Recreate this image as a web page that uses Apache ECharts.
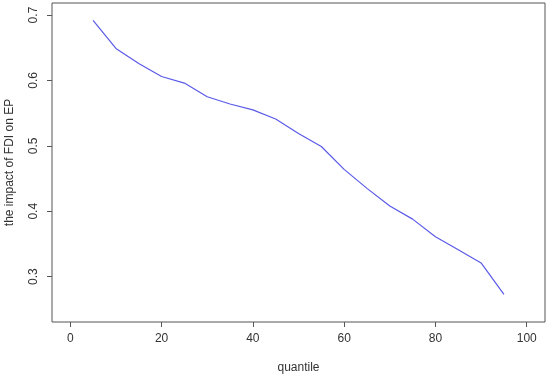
<!DOCTYPE html>
<html>
<head>
<meta charset="utf-8">
<script src="https://cdn.jsdelivr.net/npm/echarts@6/dist/echarts.min.js"></script>
<style>
  html, body { margin: 0; padding: 0; background: #fff; }
  #chart { width: 550px; height: 375px; }
</style>
</head>
<body>
<div id="chart"></div>
<script>
// quantile levels and estimated effect of FDI on EP
const quantiles = [5, 10, 15, 20, 25, 30, 35, 40, 45, 50, 55, 60, 65, 70, 75, 80, 85, 90, 95];
const impact = [0.692, 0.649, 0.626, 0.606, 0.596, 0.575, 0.564, 0.555, 0.541, 0.519,
                0.499, 0.464, 0.435, 0.408, 0.388, 0.361, 0.341, 0.321, 0.273];
const xTicks = [0, 20, 40, 60, 80, 100];
const yTicks = [0.3, 0.4, 0.5, 0.6, 0.7];

const chart = echarts.init(document.getElementById('chart'));
const textColor = '#333';
const frame = '#555';
const font = 'Liberation Sans, Arial, sans-serif';

chart.setOption({
  animation: false,
  grid: {
    left: 52, right: 5, top: 3, bottom: 53,
    outerBoundsMode: 'none', containLabel: false,
    show: true, borderColor: frame, borderWidth: 1, backgroundColor: 'transparent'
  },
  xAxis: {
    type: 'value',
    min: -4, max: 104,
    name: 'quantile',
    nameLocation: 'middle',
    nameGap: 40,
    nameTextStyle: { color: textColor, fontSize: 12, fontFamily: font },
    splitLine: { show: false },
    axisLine: { show: false, onZero: false },
    axisTick: { show: true, inside: false, length: 5, customValues: xTicks, lineStyle: { color: frame } },
    axisLabel: { color: textColor, fontSize: 12, fontFamily: font, margin: 11, customValues: xTicks }
  },
  yAxis: {
    type: 'value',
    min: 0.2307, max: 0.7184,
    name: 'the impact of FDI on EP',
    nameLocation: 'middle',
    nameGap: 36,
    nameTextStyle: { color: textColor, fontSize: 12, fontFamily: font },
    splitLine: { show: false },
    axisLine: { show: false, onZero: false },
    axisTick: { show: true, inside: false, length: 5, customValues: yTicks, lineStyle: { color: frame } },
    axisLabel: {
      color: textColor, fontSize: 12, fontFamily: font, rotate: 90, margin: 12,
      customValues: yTicks, formatter: v => v.toFixed(1)
    }
  },
  series: [{
    type: 'line',
    data: quantiles.map((q, i) => [q, impact[i]]),
    showSymbol: false,
    lineStyle: { color: '#5a5ae8', width: 1.2 },
    silent: true
  }]
});
</script>
</body>
</html>
